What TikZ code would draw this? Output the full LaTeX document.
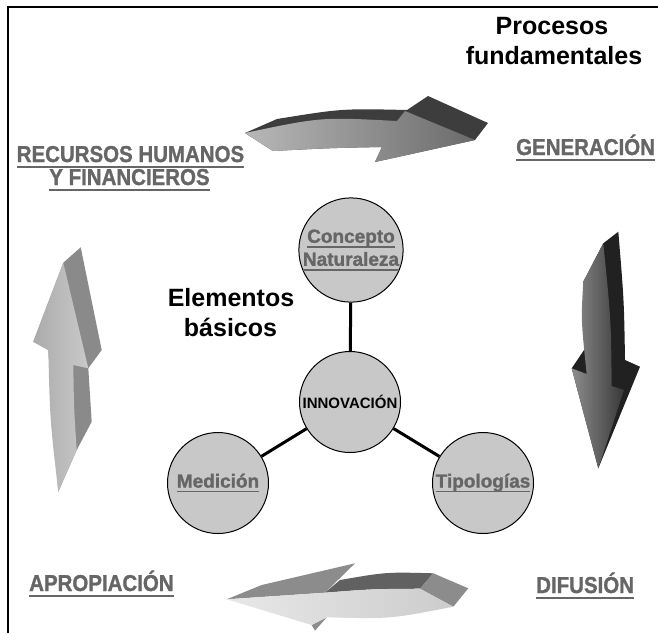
\documentclass[tikz,border=0pt]{standalone}
\usepackage{fontspec}
\usepackage{graphicx}
\setmainfont{Liberation Sans}
\newfontfamily\heavyfont[FakeBold=1.3]{Liberation Sans Bold}
\definecolor{labelgray}{HTML}{666666}
\definecolor{bubblefill}{HTML}{C8C8C8}
\newcommand\ulx[1]{\setbox0=\hbox{#1}\rlap{\rule[-0.25em]{\wd0}{0.09em}}\box0}
\newcommand\condx[1]{\scalebox{0.89}[1]{\ulx{#1}}}
\tikzset{
  bubble/.style={circle, draw=black, line width=1pt, fill=bubblefill, minimum size=101pt, inner sep=0pt, align=center},
  ctext/.style={text=labelgray, font=\heavyfont\fontsize{19}{23}\selectfont},
  outer/.style={anchor=base, inner sep=0pt, text=labelgray, font=\heavyfont\fontsize{23}{25}\selectfont},
  title/.style={anchor=base, inner sep=0pt, font=\bfseries\fontsize{25}{30}\selectfont},
  link/.style={line width=3pt},
  frameline/.style={line width=1.5pt, line join=miter},
  topside/.style={fill=black!76},
  topfront/.style={left color=black!28, right color=black!58},
  rightside/.style={fill=black!87},
  rightfront/.style={left color=black!45, right color=black!78},
  leftside/.style={fill=black!46},
  leftfront/.style={left color=black!33, right color=black!21},
  botside/.style={fill=black!45},
  botdark/.style={fill=black!62},
  botfront/.style={left color=black!9, right color=black!20},
}
\begin{document}
\begin{tikzpicture}[x=1pt,y=-1pt]
\useasboundingbox (0,0) rectangle (658,633);
\draw[frameline] (8,633) -- (8,7) -- (658,7);

% top arrow (to the right)
\fill[topside] (245,133) -- (277,119) .. controls (342,108.5) .. (407,110) -- (428,96) -- (488,123) -- (475,140) -- (375,162) -- (382,147) .. controls (330,148) .. (273,151) -- cycle;
\shade[topfront] (245,133) .. controls (321,117) .. (397,121) -- (405,111) -- (475,140) -- (375,162) -- (382,147) .. controls (330,148) .. (273,151) -- cycle;

% right arrow (down)
\fill[rightside] (603.3,243.3) -- (618.3,231.7) .. controls (624,300) .. (625,360) -- (640,366.7) -- (598.3,468.3) -- (571.7,368.3) -- (586.7,346) -- (583.3,281.7) -- cycle;
\shade[rightfront] (583.3,281.7) -- (603.3,243.3) .. controls (611,320) .. (611.7,386) -- (624,390) -- (598.3,468.3) -- (571.7,368.3) -- (586.7,374) .. controls (581,320) .. (583.3,281.7) -- cycle;

% bottom arrow (to the left)
\fill[botside] (226.7,599.3) -- (261.7,585) -- (355,563.3) -- (325,592.7) -- cycle;
\fill[botdark] (325,592.7) -- (340,580) .. controls (386,572) .. (433.3,573.3) -- (420,588.7) .. controls (372,589) .. (325,592.7) -- cycle;
\fill[botside] (420,588.7) -- (433.3,573.3) -- (468.3,588.3) -- (453.3,606.7) -- cycle;
\fill[botside] (311.7,625) -- (326.7,617.3) -- (315,630.7) -- cycle;
\shade[botfront] (226.7,599.3) -- (325,592.7) .. controls (372,589) .. (420,588.7) -- (453.3,606.7) .. controls (390,619) .. (326.7,617.3) -- (311.7,625) -- cycle;

% left arrow (up)
\fill[leftside] (63.3,262.7) -- (80.7,247.3) -- (101.7,350) -- (88.3,368.3) -- (91.7,421.7) -- (76.7,450) -- (58.3,491.7) -- (48.3,350) -- (33.3,341.7) -- cycle;
\shade[leftfront] (63.3,262.7) -- (88.3,368.3) -- (73.3,365) .. controls (74,410) .. (76.7,450) -- (58.3,491.7) .. controls (50,420) .. (48.3,350) -- (33.3,341.7) -- cycle;

% titles
\node[title] (proc1) at (552,34) {Procesos};
\node[title] (proc2) at (554,64) {fundamentales};
\node[title] (elem1) at (231,306.7) {Elementos};
\node[title] (elem2) at (230.5,336.7) {básicos};

% process labels
\node[outer] (rec1) at (130.5,162) {\condx{RECURSOS HUMANOS}};
\node[outer] (rec2) at (129.5,185) {\condx{Y FINANCIEROS}};
\node[outer, anchor=base west] (gen) at (516,155) {\condx{GENERACIÓN}};
\node[outer, anchor=base west] (apr) at (29,591) {\condx{APROPIACIÓN}};
\node[outer, anchor=base west] (dif) at (536,593) {\condx{DIFUSIÓN}};

% circles
\node[bubble, ctext] (concepto) at (351,250) {\ulx{Concepto}\\\ulx{Naturaleza}};
\node[bubble, font=\bfseries\fontsize{15}{18}\selectfont] (inno) at (350,402) {INNOVACIÓN};
\node[bubble, ctext] (medicion) at (218,483) {\ulx{Medición}};
\node[bubble, ctext] (tipo) at (483,483) {\ulx{Tipologías}};

\draw[link] (concepto) -- (inno);
\draw[link] (inno) -- (medicion);
\draw[link] (inno) -- (tipo);
\end{tikzpicture}
\end{document}
